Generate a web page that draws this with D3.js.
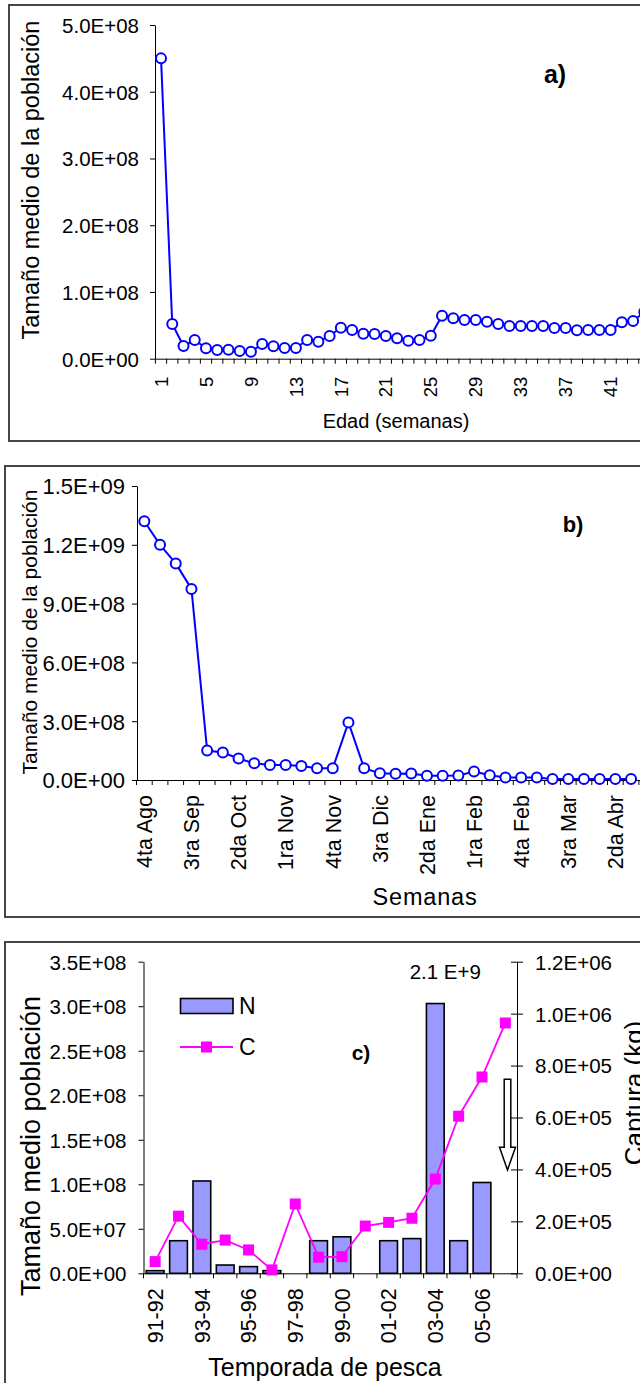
<!DOCTYPE html>
<html>
<head>
<meta charset="utf-8">
<script src="https://cdn.jsdelivr.net/npm/d3@7"></script>
<style>
  body { margin: 0; background: #fff; }
  svg { display: block; font-family: "Liberation Sans", Arial, sans-serif; }
</style>
</head>
<body>
<svg id="fig" width="640" height="1383"></svg>
<script>
// ---- Panel a: mean population size by age (weeks) ----
const ageWeeks = d3.range(1, 53);
const ageValues = [4.5e8, 5.2e7, 1.9e7, 2.8e7, 1.55e7, 1.3e7, 1.35e7, 1.15e7, 1.05e7, 2.2e7,
  1.85e7, 1.6e7, 1.6e7, 2.8e7, 2.55e7, 3.4e7, 4.65e7, 4.3e7, 3.75e7, 3.7e7,
  3.4e7, 3.05e7, 2.7e7, 2.8e7, 3.45e7, 6.45e7, 6.05e7, 5.8e7, 5.8e7, 5.55e7,
  5.2e7, 4.9e7, 4.9e7, 4.9e7, 4.9e7, 4.6e7, 4.6e7, 4.25e7, 4.3e7, 4.3e7,
  4.3e7, 5.45e7, 5.65e7, 7.0e7];
const ageTicks = [0, 1e8, 2e8, 3e8, 4e8, 5e8];

// ---- Panel b: mean population size by calendar week ----
const weekLabels = ["4ta Ago", "1ra Sep", "2da Sep", "3ra Sep", "4ta Sep", "1ra Oct", "2da Oct",
  "3ra Oct", "4ta Oct", "1ra Nov", "2da Nov", "3ra Nov", "4ta Nov", "1ra Dic", "2da Dic", "3ra Dic",
  "4ta Dic", "1ra Ene", "2da Ene", "3ra Ene", "4ta Ene", "1ra Feb", "2da Feb", "3ra Feb", "4ta Feb",
  "1ra Mar", "2da Mar", "3ra Mar", "4ta Mar", "1ra Abr", "2da Abr", "3ra Abr", "4ta Abr", "1ra May"];
const weekValues = [1.32e9, 1.2e9, 1.105e9, 9.75e8, 1.5e8, 1.4e8, 1.1e8, 8.5e7, 7.7e7, 7.7e7,
  7.1e7, 6.0e7, 6.0e7, 2.94e8, 6.0e7, 3.4e7, 3.2e7, 3.3e7, 2.2e7, 2.2e7,
  2.3e7, 4.3e7, 2.4e7, 1.3e7, 1.3e7, 1.3e7, 5e6, 5e6, 5e6, 5e6, 5e6, 5e6];
const weekTicks = [0, 3e8, 6e8, 9e8, 1.2e9, 1.5e9];

// ---- Panel c: population size (N) and catch (C) per fishing season ----
const seasons = ["91-92", "92-93", "93-94", "94-95", "95-96", "96-97", "97-98", "98-99",
  "99-00", "00-01", "01-02", "02-03", "03-04", "04-05", "05-06", "06-07"];
const seasonN = [3e6, 3.66e7, 1.037e8, 9.3e6, 7.5e6, 3e6, null, 3.66e7,
  4.1e7, null, 3.66e7, 3.9e7, 2.1e9, 3.66e7, 1.02e8, null];
const seasonC = [4.5e4, 2.2e5, 1.12e5, 1.28e5, 9e4, 1.3e4, 2.67e5, 6.2e4,
  6.4e4, 1.82e5, 1.96e5, 2.12e5, 3.63e5, 6.05e5, 7.56e5, 9.64e5];
const nTicks = [0, 5e7, 1e8, 1.5e8, 2e8, 2.5e8, 3e8, 3.5e8];
const cTicks = [0, 2e5, 4e5, 6e5, 8e5, 1e6, 1.2e6];
const nBreakAt = 3.03e8;   // bars taller than the axis are drawn broken at this height

// ---- shared helpers ----
const BLUE = "#0000ff", MAGENTA = "#ff00ff", BARFILL = "#9999ff";

const svg = d3.select("#fig");

function sci(v) {
  if (v === 0) return "0.0E+00";
  const [m, e] = v.toExponential(1).split("e");
  const n = +e;
  return m + "E" + (n < 0 ? "-" : "+") + String(Math.abs(n)).padStart(2, "0");
}

function label(g, x, y, s, size, opt = {}) {
  const rot = opt.rot ? ` rotate(${opt.rot})` : "";
  return g.append("text")
    .attr("transform", `translate(${x},${y})${rot}`)
    .attr("text-anchor", opt.anchor || "middle")
    .attr("dy", opt.dy || "0.35em")
    .attr("font-size", size)
    .attr("font-weight", opt.weight || "normal")
    .attr("fill", "#000")
    .text(s);
}

function styleAxis(g, size) {
  g.attr("font-family", null).attr("font-size", null);
  g.select(".domain").attr("stroke", "#000").attr("stroke-width", 1);
  g.selectAll(".tick line").attr("stroke", "#000").attr("stroke-width", 1);
  g.selectAll(".tick text").attr("font-size", size).attr("fill", "#000");
}

function yAxisLeft(g, scale, x, ticks, size, pad) {
  const ax = g.append("g").attr("transform", `translate(${x},0)`)
    .call(d3.axisLeft(scale).tickValues(ticks).tickFormat(sci)
      .tickSize(5).tickSizeOuter(0).tickPadding(pad));
  styleAxis(ax, size);
  ax.selectAll(".tick text").attr("dy", "0.36em");
  return ax;
}

// category axis: boundary tick marks, rotated labels at band centres
function catAxis(g, band, y, showLabel, size, gap) {
  const ax = g.append("g").attr("transform", `translate(0,${y})`)
    .call(d3.axisBottom(band).tickSize(0).tickSizeOuter(0)
      .tickFormat((d, i) => showLabel(i) ? d : ""));
  styleAxis(ax, size);
  ax.selectAll(".tick text")
    .attr("x", -gap).attr("y", 0).attr("dy", "0.36em")
    .attr("text-anchor", "end")
    .attr("transform", "rotate(-90)");
  const edges = band.domain().map(d => band(d)).concat([band.range()[1]]);
  ax.selectAll("line.edge").data(edges).join("line")
    .attr("class", "edge")
    .attr("x1", d => d).attr("x2", d => d)
    .attr("y1", 0).attr("y2", 5)
    .attr("stroke", "#000").attr("stroke-width", 1);
  return ax;
}

function frame(g, x, y, w, h) {
  g.append("rect").attr("x", x).attr("y", y).attr("width", w).attr("height", h)
    .attr("fill", "none").attr("stroke", "#333").attr("stroke-width", 1.8);
}

function lineWithCircles(g, xs, ys, color) {
  g.append("path").datum(ys.map((v, i) => [xs[i], v]))
    .attr("fill", "none").attr("stroke", color).attr("stroke-width", 2)
    .attr("d", d3.line().x(d => d[0]).y(d => d[1]));
  g.selectAll("circle.pt").data(ys).join("circle").attr("class", "pt")
    .attr("cx", (d, i) => xs[i]).attr("cy", d => d).attr("r", 5)
    .attr("fill", "#fff").attr("stroke", color).attr("stroke-width", 2);
}

// ================= Panel a =================
{
  const g = svg.append("g");
  frame(g, 9, 5, 700, 436);
  const x = d3.scaleBand().domain(ageWeeks).range([155.4, 155.4 + 11.24 * ageWeeks.length]);
  const y = d3.scaleLinear().domain([0, 5e8]).range([358.7, 25]);
  yAxisLeft(g, y, 155, ageTicks, 20.5, 11);
  catAxis(g, x, y(0), i => i % 4 === 0, 18.5, 18);
  const xs = ageValues.map((v, i) => x(ageWeeks[i]) + x.bandwidth() / 2);
  lineWithCircles(g, xs, ageValues.map(y), BLUE);
  label(g, 31, 180, "Tamaño medio de la población", 23.5, { rot: -90 });
  label(g, 396, 421, "Edad (semanas)", 20);
  label(g, 555, 74, "a)", 25, { weight: "bold" });
}

// ================= Panel b =================
{
  const g = svg.append("g");
  frame(g, 5, 466, 700, 451);
  const x = d3.scaleBand().domain(weekLabels).range([136.5, 136.5 + 15.7 * weekLabels.length]);
  const y = d3.scaleLinear().domain([0, 1.5e9]).range([780, 486]);
  yAxisLeft(g, y, 137, weekTicks, 22, 7);
  catAxis(g, x, y(0), i => i % 3 === 0, 21.5, 15);
  const xs = weekValues.map((v, i) => x(weekLabels[i]) + x.bandwidth() / 2);
  lineWithCircles(g, xs, weekValues.map(y), BLUE);
  label(g, 30, 632, "Tamaño medio de la población", 21, { rot: -90 });
  label(g, 425, 897, "Semanas", 23.5).attr("letter-spacing", 0.8);
  label(g, 573, 524, "b)", 22, { weight: "bold" });
}

// ================= Panel c =================
{
  const g = svg.append("g");
  frame(g, 5, 942, 700, 500);
  const x = d3.scaleBand().domain(seasons).range([143.5, 517]);
  const yN = d3.scaleLinear().domain([0, 3.5e8]).range([1273.3, 961.7]);
  const yC = d3.scaleLinear().domain([0, 1.2e6]).range([1273.3, 961.7]);
  const bw = x.bandwidth() * 0.76;
  const cx = d => x(d) + x.bandwidth() / 2;

  // bars (N)
  const bars = seasons.map((s, i) => ({ s, v: seasonN[i] })).filter(d => d.v !== null);
  g.selectAll("rect.bar").data(bars).join("rect").attr("class", "bar")
    .attr("x", d => cx(d.s) - bw / 2).attr("width", bw)
    .attr("y", d => yN(Math.min(d.v, nBreakAt)))
    .attr("height", d => yN(0) - yN(Math.min(d.v, nBreakAt)))
    .attr("fill", BARFILL).attr("stroke", "#000").attr("stroke-width", 1.6);

  // value of the broken bar
  const big = bars.find(d => d.v > nBreakAt);
  label(g, cx(big.s) + 10, yN(3.5e8) + 10, (big.v / 1e9).toFixed(1) + " E+9", 20.5);

  // axes
  yAxisLeft(g, yN, 143.5, nTicks, 20.5, 12);
  const axR = g.append("g").attr("transform", "translate(517,0)")
    .call(d3.axisRight(yC).tickValues(cTicks).tickFormat(sci)
      .tickSize(6).tickSizeOuter(0).tickPadding(12));
  styleAxis(axR, 20.5);
  axR.selectAll(".tick line").attr("x1", -6).attr("x2", 6);
  axR.selectAll(".tick text").attr("dy", "0.36em");
  catAxis(g, x, yN(0), i => i % 2 === 0, 21.5, 15);

  // catch line (C)
  g.append("path").datum(seasonC.map((v, i) => [cx(seasons[i]), yC(v)]))
    .attr("fill", "none").attr("stroke", MAGENTA).attr("stroke-width", 1.8)
    .attr("d", d3.line());
  g.selectAll("rect.mk").data(seasonC).join("rect").attr("class", "mk")
    .attr("x", (d, i) => cx(seasons[i]) - 5.5).attr("y", d => yC(d) - 5.5)
    .attr("width", 11).attr("height", 11).attr("fill", MAGENTA);

  // hollow arrow next to the catch axis
  const ax0 = 517 - 9.5, top = yC(7.47e5), neck = yC(4.85e5), tip = yC(3.98e5);
  g.append("path")
    .attr("d", `M${ax0 - 3.3},${top} H${ax0 + 3.3} V${neck} H${ax0 + 8} L${ax0},${tip} L${ax0 - 8},${neck} H${ax0 - 3.3} Z`)
    .attr("fill", "#fff").attr("stroke", "#000").attr("stroke-width", 1.5);

  // legend
  g.append("rect").attr("x", 180.5).attr("y", 998.5).attr("width", 52.5).attr("height", 15)
    .attr("fill", BARFILL).attr("stroke", "#000").attr("stroke-width", 1.6);
  label(g, 239, 1006, "N", 23, { anchor: "start" });
  g.append("line").attr("x1", 180).attr("x2", 233).attr("y1", 1047).attr("y2", 1047)
    .attr("stroke", MAGENTA).attr("stroke-width", 1.8);
  g.append("rect").attr("x", 201).attr("y", 1041.5).attr("width", 11).attr("height", 11)
    .attr("fill", MAGENTA);
  label(g, 239, 1047, "C", 23, { anchor: "start" });

  label(g, 361, 1053, "c)", 21, { weight: "bold" });
  label(g, 31, 1146, "Tamaño medio población", 27, { rot: -90 });
  label(g, 634, 1093, "Captura (kg)", 26, { rot: -90 });
  label(g, 325, 1367, "Temporada de pesca", 25);
}
</script>
</body>
</html>
